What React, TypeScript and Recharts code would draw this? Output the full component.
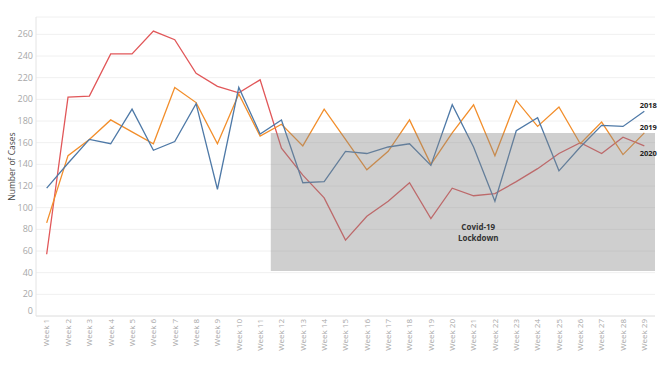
import React from "react";
import {
  ComposedChart,
  Line,
  XAxis,
  YAxis,
  CartesianGrid,
  ReferenceArea,
} from "recharts";

const weeks = [
  "Week 1", "Week 2", "Week 3", "Week 4", "Week 5", "Week 6", "Week 7", "Week 8",
  "Week 9", "Week 10", "Week 11", "Week 12", "Week 13", "Week 14", "Week 15",
  "Week 16", "Week 17", "Week 18", "Week 19", "Week 20", "Week 21", "Week 22",
  "Week 23", "Week 24", "Week 25", "Week 26", "Week 27", "Week 28", "Week 29",
];

const cases2018 = [118, 141, 163, 159, 191, 153, 161, 196, 117, 211, 168, 181, 123, 124, 152, 150, 156, 159, 139, 195, 156, 106, 171, 183, 134, 156, 176, 175, 189];
const cases2019 = [86, 148, 163, 181, 170, 159, 211, 197, 159, 205, 166, 177, 157, 191, 163, 135, 152, 181, 140, 169, 195, 148, 199, 175, 193, 159, 179, 149, 169];
const cases2020 = [57, 202, 203, 242, 242, 263, 255, 224, 212, 206, 218, 155, 130, 109, 70, 92, 106, 123, 90, 118, 111, 113, 124, 136, 150, 160, 150, 165, 157];

const yTicks = [0, 20, 40, 60, 80, 100, 120, 140, 160, 180, 200, 220, 240, 260];
const lockdownStart = "Week 12";
const lockdownEnd = "Week 29";
const lockdownLow = 41.5;
const lockdownHigh = 169;

const data = weeks.map((w, i) => ({
  week: w,
  y2018: cases2018[i],
  y2019: cases2019[i],
  y2020: cases2020[i],
}));

const FONT = "'Open Sans', 'Liberation Sans', Arial, sans-serif";

const YTick = (props: any) => {
  const { x, y, payload } = props;
  const yy = payload.value === 0 ? y - 5 : y;
  return (
    <text x={x} y={yy} dy="0.35em" textAnchor="end" fill="#a8a8a8" fontSize={9} fontFamily={FONT}>
      {payload.value}
    </text>
  );
};

const XTick = (props: any) => {
  const { x, y, payload } = props;
  return (
    <text
      x={x}
      y={y}
      dy="0.35em"
      transform={`rotate(-90 ${x} ${y})`}
      textAnchor="end"
      fill="#a8a8a8"
      fontSize={8}
      fontFamily={FONT}
    >
      {payload.value}
    </text>
  );
};

const makeEndLabel = (text: string, offset: number) => (props: any) => {
  const { x, y, index } = props;
  if (index !== weeks.length - 1) return null;
  return (
    <text
      x={x + 4}
      y={y + offset}
      dy="0.35em"
      textAnchor="middle"
      fill="#222"
      fontSize={7.5}
      fontWeight="bold"
      fontFamily={FONT}
    >
      {text}
    </text>
  );
};

const YLabel = (props: any) => {
  const vb = props.viewBox || {};
  const cx = 12;
  const cy = vb.y + vb.height / 2;
  return (
    <text
      x={cx}
      y={cy}
      dy="0.35em"
      transform={`rotate(-90 ${cx} ${cy})`}
      textAnchor="middle"
      fill="#444"
      fontSize={8.5}
      fontFamily={FONT}
    >
      Number of Cases
    </text>
  );
};

const LockdownLabel = (props: any) => {
  const vb = props.viewBox || {};
  const cx = vb.x + vb.width * 0.54;
  const cy = vb.y + vb.height * 0.72;
  return (
    <text textAnchor="middle" fill="#333" fontSize={8} fontWeight="bold" fontFamily={FONT}>
      <tspan x={cx} y={cy - 2}>Covid-19</tspan>
      <tspan x={cx} y={cy + 9}>Lockdown</tspan>
    </text>
  );
};

export default function App() {
  return (
    <div style={{ position: "absolute", left: 0, top: 0, width: 660, height: 370, background: "#fff" }}>
      <ComposedChart
        width={660}
        height={370}
        data={data}
        margin={{ top: 17, right: 5, bottom: 0, left: 0 }}
      >
        <CartesianGrid vertical={false} stroke="#f0f0f0" strokeWidth={1} />
        <XAxis
          dataKey="week"
          scale="band"
          interval={0}
          height={54}
          tickLine={false}
          tickSize={0}
          tickMargin={3}
          axisLine={{ stroke: "#e4e4e4" }}
          tick={<XTick />}
        />
        <YAxis
          domain={[0, 276]}
          ticks={yTicks}
          interval={0}
          width={36}
          tickLine={false}
          tickSize={0}
          tickMargin={3}
          axisLine={{ stroke: "#e4e4e4" }}
          tick={<YTick />}
          label={<YLabel />}
        />
        <Line
          type="linear"
          dataKey="y2020"
          stroke="#e15759"
          strokeWidth={1.3}
          dot={false}
          isAnimationActive={false}
          label={makeEndLabel("2020", 7)}
        />
        <Line
          type="linear"
          dataKey="y2019"
          stroke="#f28e2b"
          strokeWidth={1.3}
          dot={false}
          isAnimationActive={false}
          label={makeEndLabel("2019", -5.5)}
        />
        <Line
          type="linear"
          dataKey="y2018"
          stroke="#4e79a7"
          strokeWidth={1.3}
          dot={false}
          isAnimationActive={false}
          label={makeEndLabel("2018", -6)}
        />
        <ReferenceArea
          x1={lockdownStart}
          x2={lockdownEnd}
          y1={lockdownLow}
          y2={lockdownHigh}
          fill="#878787"
          fillOpacity={0.4}
          stroke="none"
          zIndex={450}
          label={<LockdownLabel />}
        />
      </ComposedChart>
    </div>
  );
}
